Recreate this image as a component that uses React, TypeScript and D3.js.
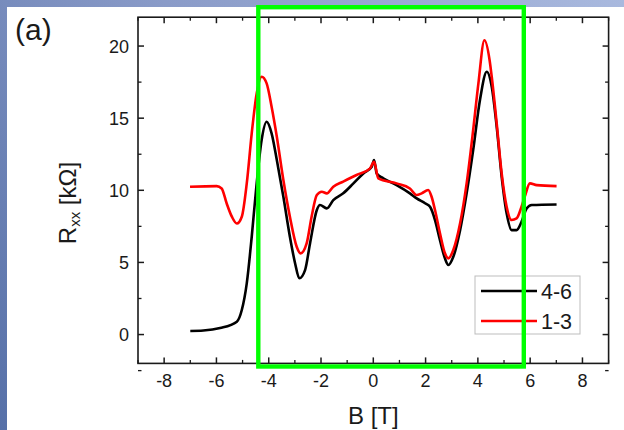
import React from "react";
import * as d3 from "d3";

// Series 4-6 (black)
const B_46 = [-7.0, -6.5, -5.86, -5.22, -5.03, -4.84, -4.65, -4.46, -4.27, -4.08, -3.89, -3.69, -3.44, -3.19, -2.99, -2.83, -2.61, -2.42, -2.16, -2.04, -1.78, -1.53, -1.15, -0.76, -0.38, -0.06, 0.03, 0.13, 0.38, 0.89, 1.4, 1.66, 1.98, 2.17, 2.36, 2.55, 2.74, 2.87, 3.06, 3.32, 3.57, 3.82, 4.08, 4.34, 4.53, 4.72, 4.91, 5.1, 5.29, 5.48, 5.67, 5.87, 6.06, 7.01];
const R_46 = [0.25, 0.28, 0.45, 0.89, 1.7, 3.55, 6.78, 10.5, 13.5, 14.75, 13.95, 12.1, 9.55, 6.78, 4.93, 3.9, 4.47, 6.32, 8.63, 8.98, 8.75, 9.32, 9.79, 10.48, 11.17, 11.63, 12.1, 11.17, 10.83, 10.36, 9.79, 9.44, 9.1, 8.86, 7.94, 6.55, 5.28, 4.82, 5.39, 7.24, 9.79, 12.79, 16.26, 18.22, 17.18, 14.4, 10.94, 8.4, 7.24, 7.24, 7.82, 8.75, 8.98, 9.02];

// Series 1-3 (red)
const B_13 = [-7.01, -5.99, -5.8, -5.61, -5.41, -5.22, -5.03, -4.84, -4.65, -4.46, -4.27, -4.08, -3.89, -3.69, -3.44, -3.19, -2.93, -2.78, -2.55, -2.36, -2.16, -1.97, -1.78, -1.53, -1.15, -0.64, -0.13, 0.03, 0.19, 0.89, 1.4, 1.66, 1.85, 2.1, 2.23, 2.36, 2.55, 2.74, 2.87, 3.06, 3.32, 3.57, 3.82, 4.02, 4.25, 4.45, 4.53, 4.72, 4.91, 5.1, 5.29, 5.48, 5.67, 5.8, 5.99, 6.25, 7.01];
const R_13 = [10.25, 10.29, 10.13, 9.1, 8.17, 7.7, 8.17, 10.48, 13.95, 16.72, 17.87, 17.41, 15.79, 13.71, 10.71, 8.17, 6.09, 5.63, 6.32, 8.17, 9.67, 9.9, 9.79, 10.25, 10.6, 11.06, 11.5, 11.98, 10.83, 10.48, 10.13, 9.67, 9.79, 10.02, 9.55, 8.63, 7.02, 5.63, 5.28, 5.86, 7.71, 10.48, 14.18, 17.41, 20.4, 19.0, 17.87, 14.64, 11.17, 8.86, 7.94, 8.05, 8.86, 9.6, 10.48, 10.36, 10.29];

const X_TICKS = [-8, -6, -4, -2, 0, 2, 4, 6, 8];
const X_MINOR = [-9, -7, -5, -3, -1, 1, 3, 5, 7, 9];
const Y_TICKS = [0, 5, 10, 15, 20];
const Y_MINOR = [-2.5, 2.5, 7.5, 12.5, 17.5];
const SERIES_LABELS = ["4-6", "1-3"];
const SERIES_COLORS = ["#000000", "#ff0000"];

const W = 624, H = 430;
const L = 138, R = 608.6, T = 17.2, Bm = 363.4;
const FONT = "'Liberation Sans', Arial, Helvetica, sans-serif";

export default function App() {
  const x = d3.scaleLinear().domain([-9, 9]).range([L, R]);
  const y = d3.scaleLinear().domain([-2, 22]).range([Bm, T]);
  const line = d3
    .line<[number, number]>()
    .x((d) => x(d[0]))
    .y((d) => y(d[1]))
    .curve(d3.curveMonotoneX);
  const d46 = line(B_46.map((b, i) => [b, R_46[i]] as [number, number])) || "";
  const d13 = line(B_13.map((b, i) => [b, R_13[i]] as [number, number])) || "";

  const maj = 6, mn = 3.5;
  return (
    <svg
      width={W}
      height={H}
      style={{ position: "absolute", left: 0, top: 0, display: "block" }}
      fontFamily={FONT}
    >
      <defs>
        <linearGradient id="bg" gradientUnits="userSpaceOnUse" x1={0} y1={430} x2={624} y2={0}>
          <stop offset="0" stopColor="#5670a8" />
          <stop offset="0.5" stopColor="#8a9bc8" />
          <stop offset="1" stopColor="#a9b9de" />
        </linearGradient>
        <clipPath id="plotclip">
          <rect x={L} y={T} width={R - L} height={Bm - T} />
        </clipPath>
      </defs>
      <rect x={0} y={0} width={W} height={H} fill="url(#bg)" />
      <rect x={7} y={7} width={W - 7} height={H - 7} fill="#ffffff" />

      {/* curves */}
      <g clipPath="url(#plotclip)">
        <path d={d46} fill="none" stroke={SERIES_COLORS[0]} strokeWidth={2.6} strokeLinejoin="round" />
        <path d={d13} fill="none" stroke={SERIES_COLORS[1]} strokeWidth={2.6} strokeLinejoin="round" />
      </g>

      {/* frame */}
      <rect x={L} y={T} width={R - L} height={Bm - T} fill="none" stroke="#1a1a1a" strokeWidth={1.6} />

      {/* x ticks */}
      {X_TICKS.map((t) => (
        <g key={"xt" + t}>
          <line x1={x(t)} x2={x(t)} y1={Bm} y2={Bm - maj} stroke="#1a1a1a" strokeWidth={1.5} />
          <line x1={x(t)} x2={x(t)} y1={T} y2={T + maj} stroke="#1a1a1a" strokeWidth={1.5} />
          <text x={x(t)} y={387} textAnchor="middle" fontSize={18} fill="#1a1a1a">
            {t}
          </text>
        </g>
      ))}
      {X_MINOR.map((t) => (
        <g key={"xm" + t}>
          <line x1={x(t)} x2={x(t)} y1={Bm} y2={Bm - mn} stroke="#1a1a1a" strokeWidth={1.3} />
          <line x1={x(t)} x2={x(t)} y1={T} y2={T + mn} stroke="#1a1a1a" strokeWidth={1.3} />
        </g>
      ))}
      {/* y ticks */}
      {Y_TICKS.map((t) => (
        <g key={"yt" + t}>
          <line x1={L} x2={L + maj} y1={y(t)} y2={y(t)} stroke="#1a1a1a" strokeWidth={1.5} />
          <line x1={R} x2={R - maj} y1={y(t)} y2={y(t)} stroke="#1a1a1a" strokeWidth={1.5} />
          <text x={129} y={y(t) + 6.5} textAnchor="end" fontSize={18} fill="#1a1a1a">
            {t}
          </text>
        </g>
      ))}
      {Y_MINOR.map((t) => (
        <g key={"ym" + t}>
          <line x1={L} x2={L + mn} y1={y(t)} y2={y(t)} stroke="#1a1a1a" strokeWidth={1.3} />
          <line x1={R} x2={R - mn} y1={y(t)} y2={y(t)} stroke="#1a1a1a" strokeWidth={1.3} />
        </g>
      ))}

      {/* axis titles */}
      <text x={(L + R) / 2} y={424} textAnchor="middle" fontSize={24} fill="#1a1a1a">
        B [T]
      </text>
      <text
        transform={`translate(76,203) rotate(-90)`}
        textAnchor="middle"
        fontSize={24}
        fill="#1a1a1a"
      >
        R
        <tspan fontSize={15} dy={4}>xx</tspan>
        <tspan dy={-4}> [kΩ]</tspan>
      </text>

      {/* panel label */}
      <text x={15} y={40} fontSize={30} fill="#1a1a1a">
        (a)
      </text>

      {/* legend */}
      <rect x={475} y={276} width={105} height={58} fill="#ffffff" stroke="#bdbdbd" strokeWidth={1} />
      {SERIES_LABELS.map((s, i) => (
        <g key={s}>
          <line x1={481} x2={537} y1={291 + i * 30} y2={291 + i * 30} stroke={SERIES_COLORS[i]} strokeWidth={2.6} />
          <text x={541} y={291 + i * 30 + 7.5} fontSize={21.5} fill="#1a1a1a">
            {s}
          </text>
        </g>
      ))}

      {/* highlight box */}
      <rect x={258.3} y={7.2} width={523.8 - 258.3} height={366.5 - 7.2} fill="none" stroke="#00ff00" strokeWidth={4.4} />
    </svg>
  );
}
